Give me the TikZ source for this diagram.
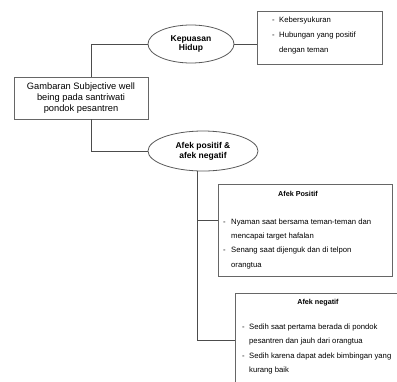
\documentclass[tikz,border=0pt]{standalone}
\usepackage{fontspec}
\setmainfont{Liberation Sans}
\usetikzlibrary{shapes.geometric}
\begin{document}
\begin{tikzpicture}[x=1pt,y=-1pt,
  conn/.style={draw=black!70, line width=0.8pt},
  box/.style={draw=black!60, line width=0.8pt, rectangle, inner sep=0pt},
  oval/.style={draw=black!65, line width=0.8pt, ellipse, inner sep=0pt, align=center,
     font=\fontsize{8.5}{9.8}\selectfont\bfseries},
  item/.style={anchor=base west, inner sep=0pt, font=\fontsize{7.7}{9}\selectfont, text=black},
  ttl/.style={anchor=base, inner sep=0pt, font=\fontsize{7.2}{9}\selectfont\bfseries}]
\useasboundingbox (0,0) rectangle (397,381);
\clip (0,0) rectangle (397,381);

\node[box, minimum width=134pt, minimum height=42pt, align=center,
  font=\fontsize{9.3}{11}\selectfont] (main) at (81,98)
  {Gambaran Subjective well\\being pada santriwati\\pondok pesantren};

\node[oval, minimum width=86pt, minimum height=38pt] (kep) at (191,44) {Kepuasan\\Hidup};
\node[oval, minimum width=110pt, minimum height=40pt] (afek) at (203,151) {Afek positif \&\\afek negatif};

\node[box, minimum width=125pt, minimum height=53pt] (kebox) at (319.5,37.5) {};
\node[box, minimum width=174pt, minimum height=92pt] (pos) at (305,230) {};
\node[box, minimum width=180pt, minimum height=107pt] (neg) at (325,346.5) {};

% connectors
\draw[conn] ([xshift=10pt]main.north) |- (kep.west);
\draw[conn] ([xshift=10pt]main.south) |- (afek.west);
\draw[conn] (kep.east) -- (kep.east -| kebox.west);
\coordinate (v) at (197,340);
\coordinate (b) at (197,220);
\draw[conn] (afek.south -| v) -- (v) -- (v -| neg.west);
\draw[conn] (b) -- (b -| pos.west);

% Kepuasan box text
\node[item] (k1d) at (272,22.5) {-};
\node[item] (k1) at (279,22.5) {Kebersyukuran};
\node[item] (k2d) at (272,37.5) {-};
\node[item] (k2) at (279,37.5) {Hubungan yang positif};
\node[item] (k3) at (279,52.5) {dengan teman};

% Afek Positif
\node[ttl] (pt) at (298,196.5) {Afek Positif};
\node[item] (p1d) at (223,224.5) {-};
\node[item] (p1) at (231,224.5) {Nyaman saat bersama teman-teman dan};
\node[item] (p2) at (231,238.5) {mencapai target hafalan};
\node[item] (p3d) at (223,252.5) {-};
\node[item] (p3) at (231,252.5) {Senang saat dijenguk dan di telpon};
\node[item] (p4) at (231,267.5) {orangtua};

% Afek negatif
\node[ttl] (nt) at (318,304.5) {Afek negatif};
\node[item] (n1d) at (242,329.5) {-};
\node[item] (n1) at (249,329.5) {Sedih saat pertama berada di pondok};
\node[item] (n2) at (249,343.5) {pesantren dan jauh dari orangtua};
\node[item] (n3d) at (242,358.5) {-};
\node[item] (n3) at (249,358.5) {Sedih karena dapat adek bimbingan yang};
\node[item] (n4) at (249,372.5) {kurang baik};
\end{tikzpicture}
\end{document}
